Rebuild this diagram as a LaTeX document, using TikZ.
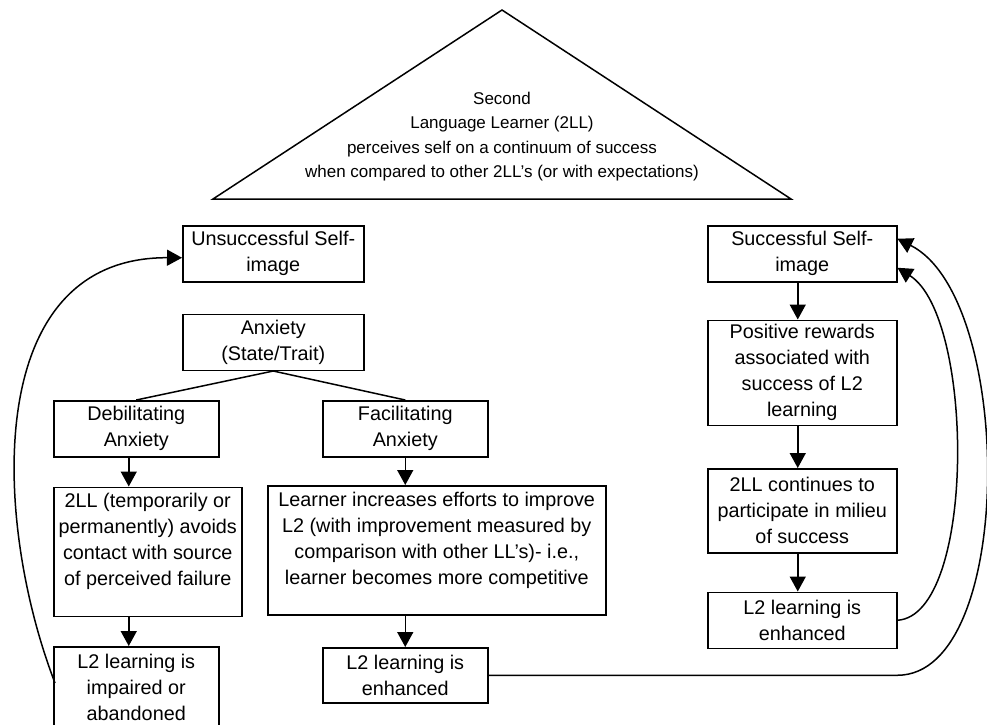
\documentclass[tikz,border=0pt]{standalone}
\usepackage{fontspec}
\setmainfont{Liberation Sans}
\usetikzlibrary{positioning,arrows.meta,calc}
\tikzset{
  box/.style={rectangle,draw=black,line width=1.5pt,align=center,inner sep=0pt,
    font=\fontsize{19.8}{26}\selectfont},
  ar/.style={-{Triangle[length=15pt,width=16pt]},line width=1.5pt,draw=black},
  ln/.style={line width=1.5pt,draw=black},
}
\begin{document}
\begin{tikzpicture}[x=1pt,y=-1pt]
  \useasboundingbox (0,0) rectangle (987,724);
  % the learner at the top
  \draw[ln,line join=miter] (213,199) -- (502,10) -- (791,199) -- cycle;
  \node[font=\fontsize{17}{24.3}\selectfont,align=center] (self) at (502,136.5)
    {Second\\Language Learner (2LL)\\perceives self on a continuum of success\\when compared to other 2LL’s (or with expectations)};
  % unsuccessful side
  \node[box,minimum width=181pt,minimum height=56pt,anchor=north west] (uns) at (182,225) {Unsuccessful Self-\\image};
  \node[box,minimum width=181pt,minimum height=56pt,below=31pt of uns] (anx) {Anxiety\\(State/Trait)};
  \node[box,minimum width=165pt,minimum height=56pt,anchor=north west] (deb) at (53,400) {Debilitating\\Anxiety};
  \node[box,minimum width=165pt,minimum height=56pt,anchor=north west] (fac) at (322,400) {Facilitating\\Anxiety};
  \node[box,minimum width=188pt,minimum height=129pt,below=29pt of deb.south west,anchor=north west] (avoid)
    {2LL (temporarily or\\permanently) avoids\\contact with source\\of perceived failure\rule[-24pt]{0pt}{0pt}};
  \node[box,minimum width=338pt,minimum height=129pt,anchor=north west] (effort) at (267,485)
    {Learner increases efforts to improve\\L2 (with improvement measured by\\comparison with other LL’s)- i.e.,\\learner becomes more competitive\rule[-24pt]{0pt}{0pt}};
  \node[box,minimum width=165pt,minimum height=81pt,below=29pt of avoid.south west,anchor=north west] (impair)
    {L2 learning is\\impaired or\\abandoned};
  \node[box,minimum width=165pt,minimum height=55pt,anchor=north west] (enhL) at (322,647) {L2 learning is\\enhanced};
  % successful side
  \node[box,minimum width=189pt,minimum height=56pt,anchor=north west] (succ) at (707,225) {Successful Self-\\image};
  \node[box,minimum width=189pt,minimum height=105pt,below=37pt of succ] (reward)
    {Positive rewards\\associated with\\success of L2\\learning};
  \node[box,minimum width=189pt,minimum height=84pt,below=42pt of reward] (cont)
    {2LL continues to\\participate in milieu\\of success};
  \node[box,minimum width=189pt,minimum height=56pt,below=38pt of cont] (enhR) {L2 learning is\\enhanced};

  \draw[ln] (anx.south) -- (deb.north);
  \draw[ln] (anx.south) -- (fac.north);
  \draw[ar] ($(deb.south)+(-7.5,0)$) -- ($(deb.south |- avoid.north)+(-7.5,0)$);
  \draw[ar] ($(impair.north |- avoid.south)+(-7.5,0)$) -- ($(impair.north)+(-7.5,0)$);
  \draw[ar] (fac.south) -- (fac.south |- effort.north);
  \draw[ar] (enhL.north |- effort.south) -- (enhL.north);
  \foreach \a/\b in {succ/reward,reward/cont,cont/enhR}
    \draw[ar] ($(\a.south)+(-4.5,0)$) -- ($(\b.north)+(-4.5,0)$);

  % feedback loops
  \draw[ar] ($(impair.north west)+(2,37)$) .. controls (-7,522) and (-19,257) .. ($(uns.west)+(0,4)$);
  \draw[ar] (enhR.east) .. controls (976,615) and (975,317) .. ($(succ.east)+(0,14)$);
  \draw[ar] (enhL.east) -- (enhL.east -| enhR.east) .. controls (1016,675) and (1015,298) .. ($(succ.east)+(0,-15)$);
\end{tikzpicture}
\end{document}
